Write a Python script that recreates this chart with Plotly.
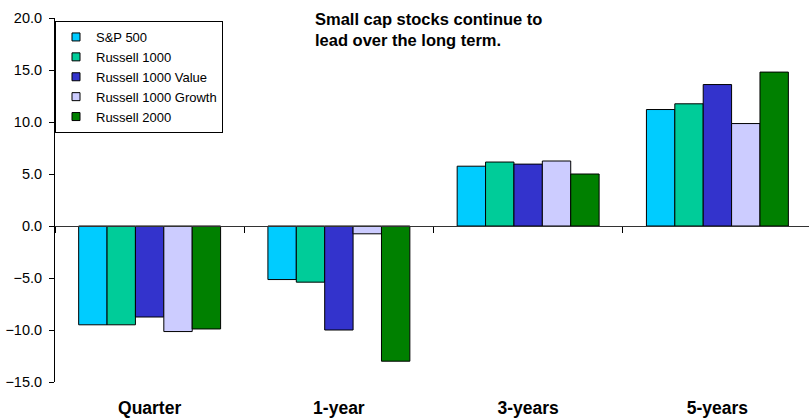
import plotly.graph_objects as go

categories = ["Quarter", "1-year", "3-years", "5-years"]
series_names = ["S&P 500", "Russell 1000", "Russell 1000 Value", "Russell 1000 Growth", "Russell 2000"]
sp500 = [-9.5, -5.15, 5.75, 11.2]
russell1000 = [-9.5, -5.4, 6.15, 11.75]
russell1000_value = [-8.75, -10.0, 5.95, 13.6]
russell1000_growth = [-10.15, -0.75, 6.25, 9.85]
russell2000 = [-9.9, -13.0, 5.0, 14.8]
colors = ["#00CCFF", "#00CC99", "#3333CC", "#CCCCFF", "#008000"]
y_ticks = [-15, -10, -5, 0, 5, 10, 15, 20]
title_text = "Small cap stocks continue to<br>lead over the long term."

FONT = "Liberation Sans, Arial, sans-serif"
values = [sp500, russell1000, russell1000_value, russell1000_growth, russell2000]

fig = go.Figure()
for name, vals, col in zip(series_names, values, colors):
    fig.add_trace(go.Bar(
        x=categories, y=vals, name=name, showlegend=False, legendgroup=name,
        marker=dict(color=col, line=dict(color="#000000", width=1)),
    ))
# legend swatches (small squares, as in the reference)
for name, col in zip(series_names, colors):
    fig.add_trace(go.Scatter(
        x=[None], y=[None], name=name, mode="markers", legendgroup=name,
        marker=dict(symbol="square", size=8, color=col, line=dict(color="#000000", width=1)),
    ))

y_min, y_max = -15, 20
zero_pos = (0 - y_min) / (y_max - y_min)

fig.update_layout(
    width=809, height=420,
    margin=dict(l=55, r=0, t=18, b=38),
    paper_bgcolor="white", plot_bgcolor="white",
    barmode="group", bargap=0.25, bargroupgap=0,
    font=dict(family=FONT, color="#000000"),
    showlegend=True,
    legend=dict(
        x=0, xanchor="left", y=1 - 3 / 364, yanchor="top",
        bordercolor="#000000", borderwidth=1, bgcolor="white",
        font=dict(size=13, family=FONT),
        tracegroupgap=0, itemsizing="trace", itemwidth=30,
    ),
    xaxis=dict(
        type="category", range=[-0.5, 3.484],
        anchor="free", position=zero_pos,
        showline=True, linecolor="#333333", linewidth=1,
        tickson="boundaries", ticks="outside", ticklen=6, tickcolor="#000000",
        showgrid=False, zeroline=False,
        tickfont=dict(size=17.5, family=FONT, color="#000000", weight="bold"),
        ticklabelstandoff=166,
    ),
    yaxis=dict(
        range=[y_min, y_max], tickvals=y_ticks, tickformat=".1f",
        showline=True, linecolor="#000000", linewidth=1,
        ticks="outside", ticklen=5, tickcolor="#000000",
        showgrid=False, zeroline=False,
        tickfont=dict(size=14.5, family=FONT, color="#000000"),
        ticklabelstandoff=4,
    ),
    annotations=[dict(
        text=title_text, xref="paper", yref="paper",
        x=(313 - 55) / 754, y=1 + 10 / 364, xanchor="left", yanchor="top",
        align="left", showarrow=False,
        font=dict(size=16.5, family=FONT, color="#000000", weight="bold"),
    )],
)

fig.write_html("out.html")
